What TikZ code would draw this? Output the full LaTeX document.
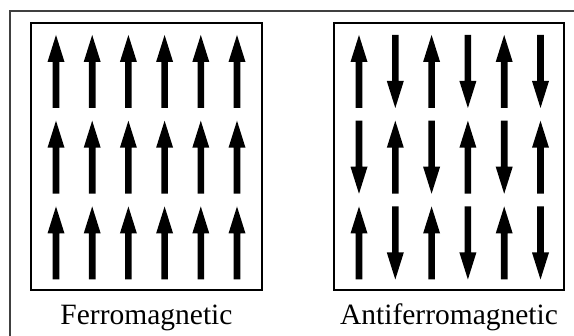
\documentclass[tikz,border=0pt]{standalone}
\usepackage{fontspec}
\setmainfont{Liberation Serif}
\begin{document}
\begin{tikzpicture}[x=1pt,y=-1pt,
  spinup/.pic={\fill (-3.3,36.5) -- (-3.3,-9.5) -- (-8.5,-9.5) -- (0,-36.5) -- (8.5,-9.5) -- (3.3,-9.5) -- (3.3,36.5) -- cycle;},
  spindown/.pic={\fill (-3.3,-36.5) -- (-3.3,9.5) -- (-8.5,9.5) -- (0,36.5) -- (8.5,9.5) -- (3.3,9.5) -- (3.3,-36.5) -- cycle;},
  panel/.style={draw=black, line width=1.8pt},
  caption/.style={font=\fontsize{29.5}{32}\selectfont, anchor=base, inner sep=0pt}]
\useasboundingbox (0,0) rectangle (574,336);
% outer frame (only top and left edges fall inside the page)
\draw[line width=1.5pt, draw=black!75] (10,340) -- (10,11) -- (580,11);
% lattice panels
\draw[panel] (31,23) rectangle (262,290);
\draw[panel] (334,23) rectangle (564,290);
% ferromagnetic: all spins aligned
\foreach \r in {0,1,2} {
  \foreach \c in {0,...,5} {
    \pic at ({56+36.2*\c},{71.5+85.75*\r}) {spinup};
  }
}
% antiferromagnetic: alternating spins
\foreach \r in {0,1,2} {
  \foreach \c in {0,...,5} {
    \pgfmathtruncatemacro{\spinparity}{mod(\r+\c,2)}
    \ifnum\spinparity=0
      \pic at ({359+36.3*\c},{71.5+85.75*\r}) {spinup};
    \else
      \pic at ({359+36.3*\c},{71.5+85.75*\r}) {spindown};
    \fi
  }
}
\node[caption] (ferro) at (146.5,325) {Ferromagnetic};
\node[caption] (antiferro) at (449,325) {Antiferromagnetic};
\end{tikzpicture}
\end{document}
